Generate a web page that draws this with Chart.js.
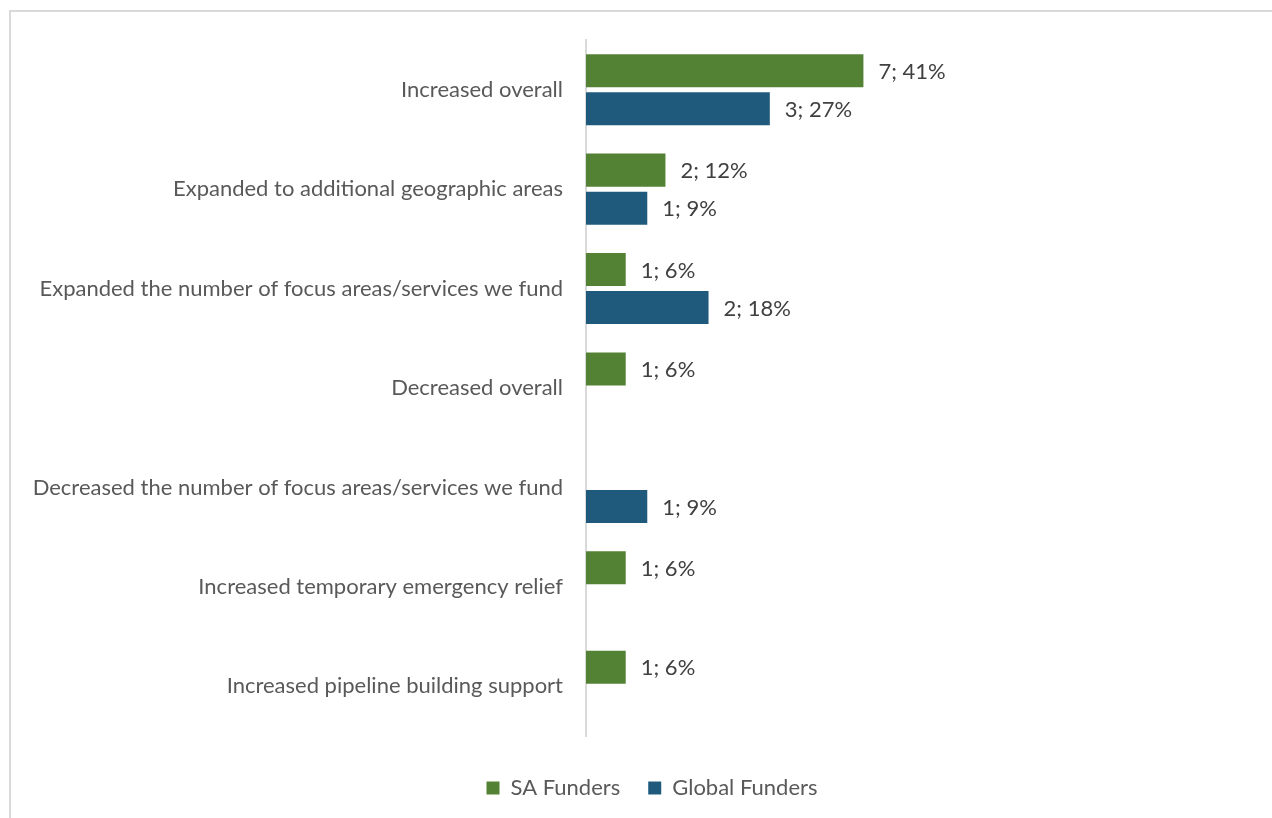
<!DOCTYPE html>
<html>
<head>
<meta charset="utf-8">
<script src="https://cdn.jsdelivr.net/npm/chart.js@4.4.1/dist/chart.umd.min.js"></script>
<style>
  html, body { margin: 0; padding: 0; background: #fff; overflow: hidden; }
  #marco {
    position: absolute; left: 9px; top: 10px;
    width: 1282px; height: 830px;
    border: 2px solid #d9d9d9;
  }
  #marco canvas { display: block; }
</style>
</head>
<body>
<div id="marco"><canvas id="chartCambios"></canvas></div>
<script>
// --- datos ---
const categorias = [
    'Increased overall',
    'Expanded to additional geographic areas',
    'Expanded the number of focus areas/services we fund',
    'Decreased overall',
    'Decreased the number of focus areas/services we fund',
    'Increased temporary emergency relief',
    'Increased pipeline building support'
];
const series = ['SA Funders', 'Global Funders'];
const saCantidad = [7, 2, 1, 1, null, 1, 1];
const saPorcentaje = [41.2, 11.8, 5.9, 5.9, null, 5.9, 5.9];
const globalCantidad = [3, 1, 2, null, 1, null, null];
const globalPorcentaje = [27.3, 9.1, 18.2, null, 9.1, null, null];

const colores = {
    verde: '#548235',
    azul: '#1F5A7C',
    texto: '#595959',
    etiqueta: '#404040',
    eje: '#d9d9d9'
};
const fuente = "Lato, 'Liberation Sans', sans-serif";
const tamFuente = 22;

// etiquetas "n; %" al final de cada barra
const etiquetasBarras = {
    id: 'etiquetasBarras',
    afterDatasetsDraw(chart) {
        const ctx = chart.ctx;
        ctx.save();
        ctx.font = `${tamFuente}px ${fuente}`;
        ctx.fillStyle = colores.etiqueta;
        ctx.textAlign = 'left';
        ctx.textBaseline = 'middle';
        chart.data.datasets.forEach((ds, i) => {
            const meta = chart.getDatasetMeta(i);
            meta.data.forEach((bar, j) => {
                if (ds.data[j] == null) return;
                const texto = `${ds.cantidades[j]}; ${Math.round(ds.data[j])}%`;
                ctx.fillText(texto, bar.x + 15, bar.y + 1);
            });
        });
        ctx.restore();
    }
};

const ctx = document.getElementById('chartCambios').getContext('2d');
new Chart(ctx, {
    type: 'bar',
    data: {
        labels: categorias,
        datasets: [
            {
                label: series[0],
                data: saPorcentaje,
                cantidades: saCantidad,
                backgroundColor: colores.verde,
                categoryPercentage: 0.765,
                barPercentage: 0.868
            },
            {
                label: series[1],
                data: globalPorcentaje,
                cantidades: globalCantidad,
                backgroundColor: colores.azul,
                categoryPercentage: 0.765,
                barPercentage: 0.868
            }
        ]
    },
    options: {
        indexAxis: 'y',
        responsive: true,
        maintainAspectRatio: false,
        animation: false,
        layout: { padding: { top: 28, bottom: 33, left: 0, right: 0 } },
        scales: {
            x: {
                min: 0,
                max: 105,
                ticks: { display: false },
                grid: { display: false },
                border: { display: false },
                afterFit: s => { s.height = 13; }
            },
            y: {
                grid: { display: false, drawTicks: false },
                border: { display: true, color: colores.eje, width: 2 },
                ticks: {
                    padding: 23,
                    color: colores.texto,
                    font: { family: fuente, size: tamFuente }
                },
                afterFit: s => {
                    s.width = 575;
                    s.paddingTop = 0;
                    s.paddingBottom = 0;
                }
            }
        },
        plugins: {
            tooltip: { enabled: false },
            legend: {
                position: 'bottom',
                labels: {
                    boxWidth: 13,
                    boxHeight: 13,
                    padding: 28,
                    color: colores.texto,
                    font: { family: fuente, size: tamFuente }
                }
            }
        }
    },
    plugins: [etiquetasBarras]
});
</script>
</body>
</html>
